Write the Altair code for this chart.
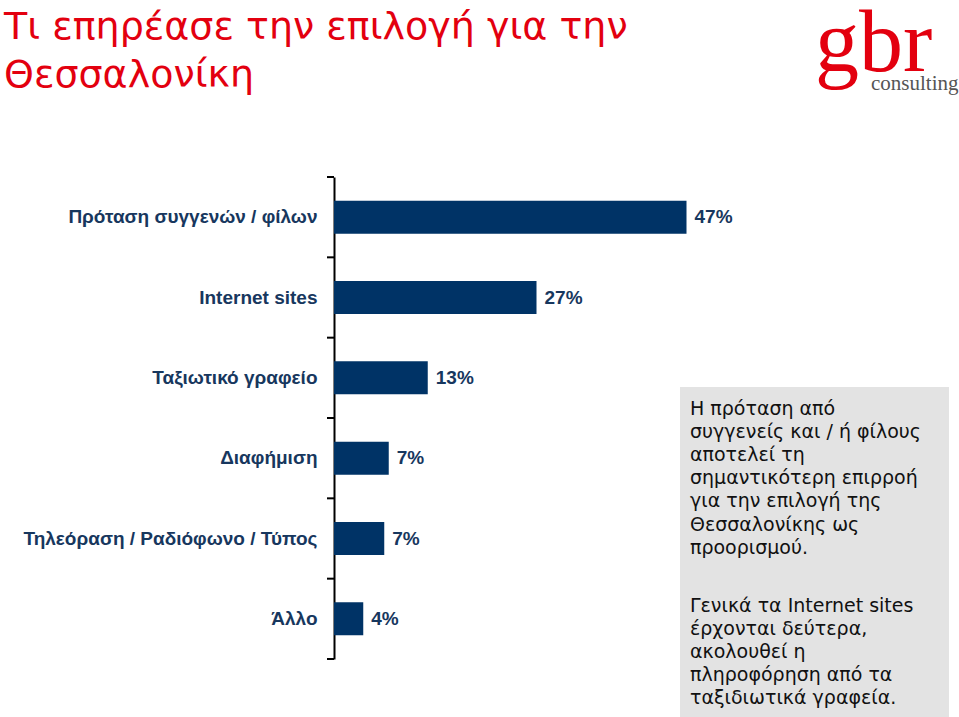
import altair as alt
import pandas as pd

categories = ["Πρόταση συγγενών / φίλων", "Internet sites", "Ταξιωτικό γραφείο",
              "Διαφήμιση", "Τηλεόραση / Ραδιόφωνο / Τύπος", "Άλλο"]
values = [47.0, 27.0, 12.5, 7.3, 6.7, 3.9]
value_labels = ["47%", "27%", "13%", "7%", "7%", "4%"]
band_edges = [0, 1, 2, 3, 4, 5, 6]

title_text = "Τι επηρέασε την επιλογή για την\nΘεσσαλονίκη"
note_1 = ("Η πρόταση από\nσυγγενείς και / ή φίλους\nαποτελεί τη\nσημαντικότερη επιρροή\n"
          "για την επιλογή της\nΘεσσαλονίκης ως\nπροορισμού.")
note_2 = ("Γενικά τα Internet sites\nέρχονται δεύτερα,\nακολουθεί η\n"
          "πληροφόρηση από τα\nταξιδιωτικά γραφεία.")

df = pd.DataFrame({"cat": categories, "val": values, "lab": value_labels})
edges = pd.DataFrame({"b": band_edges})

NAVY = "#003366"
LABEL = "#17375e"

y_enc = alt.Y("cat:N", sort=None, title=None,
              scale=alt.Scale(paddingInner=0.59, paddingOuter=0.295),
              axis=alt.Axis(ticks=False, domain=True,
                            domainColor="black", domainWidth=2,
                            labelFont="Liberation Sans", labelFontSize=19,
                            labelFontWeight="bold", labelColor=LABEL,
                            labelPadding=17, labelLimit=400))
x_enc = alt.X("val:Q", scale=alt.Scale(domain=[0, 80]), axis=None)

base = alt.Chart(df)
bars = base.mark_bar(color=NAVY).encode(x=x_enc, y=y_enc)
texts = base.mark_text(align="left", dx=8, font="Liberation Sans", fontSize=19,
                       fontWeight="bold", color=LABEL, baseline="middle").encode(
    x=x_enc, y=alt.Y("cat:N", sort=None), text="lab:N")
main = alt.layer(bars, texts)

ticks = alt.Chart(edges).mark_rule(color="black", strokeWidth=2).encode(
    x=alt.value(-7), x2=alt.value(0),
    y=alt.Y("b:Q", scale=alt.Scale(domain=[0, 6], reverse=True, nice=False, zero=False),
            axis=None))

one = pd.DataFrame({"a": [0]})
ann = alt.Chart(one)
box = ann.mark_rect(color="#e3e3e3").encode(
    x=alt.value(346), x2=alt.value(615), y=alt.value(210), y2=alt.value(540))
t1 = ann.mark_text(align="left", baseline="alphabetic", font="DejaVu Sans", fontSize=19,
                   lineHeight=23.1, color="#111111").encode(
    x=alt.value(356), y=alt.value(238), text=alt.value(note_1.split("\n")))
t2 = ann.mark_text(align="left", baseline="alphabetic", font="DejaVu Sans", fontSize=19,
                   lineHeight=23.1, color="#111111").encode(
    x=alt.value(356), y=alt.value(435), text=alt.value(note_2.split("\n")))
title = ann.mark_text(align="left", baseline="alphabetic", font="DejaVu Sans", fontSize=38,
                      lineHeight=48, color="#e3000f").encode(
    x=alt.value(-330), y=alt.value(-138), text=alt.value(title_text.split("\n")))
logo1 = ann.mark_text(align="left", baseline="alphabetic", font="Liberation Serif", fontSize=88,
                      color="#e3000f").encode(
    x=alt.value(481), y=alt.value(-106), text=alt.value("gbr"))
logo2 = ann.mark_text(align="left", baseline="alphabetic", font="Liberation Serif", fontSize=21,
                      color="#555555").encode(
    x=alt.value(537), y=alt.value(-87), text=alt.value("consulting"))

chart = alt.layer(main, ticks, box, t1, t2, title, logo1, logo2).resolve_scale(
    y="independent"
).properties(
    width=600, height=482,
    padding={"left": 334, "top": 177, "right": 25, "bottom": 58},
    autosize=alt.AutoSizeParams(type="none"),
    background="white",
).configure_view(strokeWidth=0, stroke="transparent")

chart.save("out.html", embed_options={"renderer": "svg", "actions": False})
